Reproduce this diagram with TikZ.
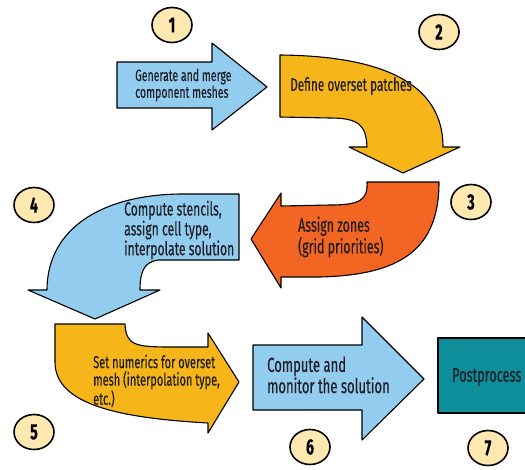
\documentclass[tikz,border=0pt]{standalone}
\usepackage{fontspec}
\setmainfont{Fira Sans}[FakeStretch=0.64, FakeBold=0.4]
\definecolor{skyb}{HTML}{92CDF0}
\definecolor{gold}{HTML}{F6B61A}
\definecolor{orng}{HTML}{F26522}
\definecolor{tealb}{HTML}{0E8E9B}
\definecolor{cream}{HTML}{FFE9B0}
\definecolor{ink}{HTML}{1E1E24}
\tikzset{
  shp/.style={draw=black, line width=1.1pt, line join=round},
  lbl/.style={text=ink, align=left, inner sep=0pt, anchor=west},
  num/.style={draw=black, line width=1.6pt, fill=cream, ellipse, minimum width=40pt, minimum height=35pt, inner sep=0pt, text=black, font=\fontsize{22}{22}\selectfont\bfseries}
}
\usetikzlibrary{shapes.geometric}
\begin{document}
\begin{tikzpicture}[x=1pt,y=-1pt]
\useasboundingbox (0,0) rectangle (525,469);
\clip (0,0) rectangle (525,469);
\fill[white] (0,0) rectangle (525,469);
% 1
\draw[shp, fill=skyb] (117,62) -- (212,62) -- (212,43) -- (267,87) -- (212,130) -- (212,108) -- (117,108) -- cycle;
% 2
\draw[shp, fill=gold] (280,55) .. controls (380,56) and (443,82) .. (443,147) -- (460,147) -- (403,173) -- (349,147) -- (367,147) .. controls (366,126) and (360,118) .. (330,118) -- (280,117) -- cycle;
% 3
\draw[shp, fill=orng] (439,182) -- (367,182) .. controls (368,200) and (360,205) .. (330,205) -- (281,206) -- (281,193) -- (251,239) -- (281,288) -- (281,277) -- (320,277) .. controls (400,275) and (439,250) .. cycle;
% 4
\draw[shp, fill=skyb] (239,194) -- (239,260) -- (158,260) .. controls (145,262) and (140,270) .. (140,290) -- (160,290) -- (95,319) -- (28,290) -- (47,290) .. controls (47,230) and (100,195) .. (180,194) -- cycle;
% 5
\draw[shp, fill=gold] (55,324) -- (125,324) .. controls (126,345) and (135,347) .. (170,347) -- (208,347) -- (208,333) -- (239,382) -- (208,433) -- (208,423) .. controls (120,418) and (55,405) .. (55,362) -- cycle;
% 6
\draw[shp, fill=skyb] (253,345) -- (362,345) -- (362,317) -- (424,379) -- (362,440) -- (362,410) -- (253,410) -- cycle;
% 7
\draw[shp, fill=tealb] (438,338) rectangle (535,413);
% texts
\node[lbl, font=\fontsize{16.4}{14}\selectfont] (t1) at (135,85) {Generate and merge\\component meshes};
\node[lbl, font=\fontsize{18.4}{17}\selectfont] (t2) at (290,86) {Define overset patches};
\node[lbl, font=\fontsize{19.4}{20}\selectfont] (t3) at (298,237) {Assign zones\\(grid priorities)};
\node[lbl, font=\fontsize{19}{18}\selectfont] (t4) at (124,230) {Compute stencils,\\assign cell type,\\interpolate solution};
\node[lbl, font=\fontsize{17.2}{17.5}\selectfont] (t5) at (93,381) {Set numerics for overset\\mesh (interpolation type,\\etc.)};
\node[lbl, font=\fontsize{20.4}{19}\selectfont] (t6) at (267,375) {Compute and\\monitor the solution};
\node[lbl, font=\fontsize{19.9}{19}\selectfont] (t7) at (452,377) {Postprocess};
% numbers
\node[num] (n1) at (172,25) {1};
\node[num] (n2) at (439,32) {2};
\node[num] (n3) at (471,202) {3};
\node[num] (n4) at (34,205) {4};
\node[num] (n5) at (34,432) {5};
\node[num] (n6) at (310,447) {6};
\node[num] (n7) at (488,448) {7};
\end{tikzpicture}
\end{document}
